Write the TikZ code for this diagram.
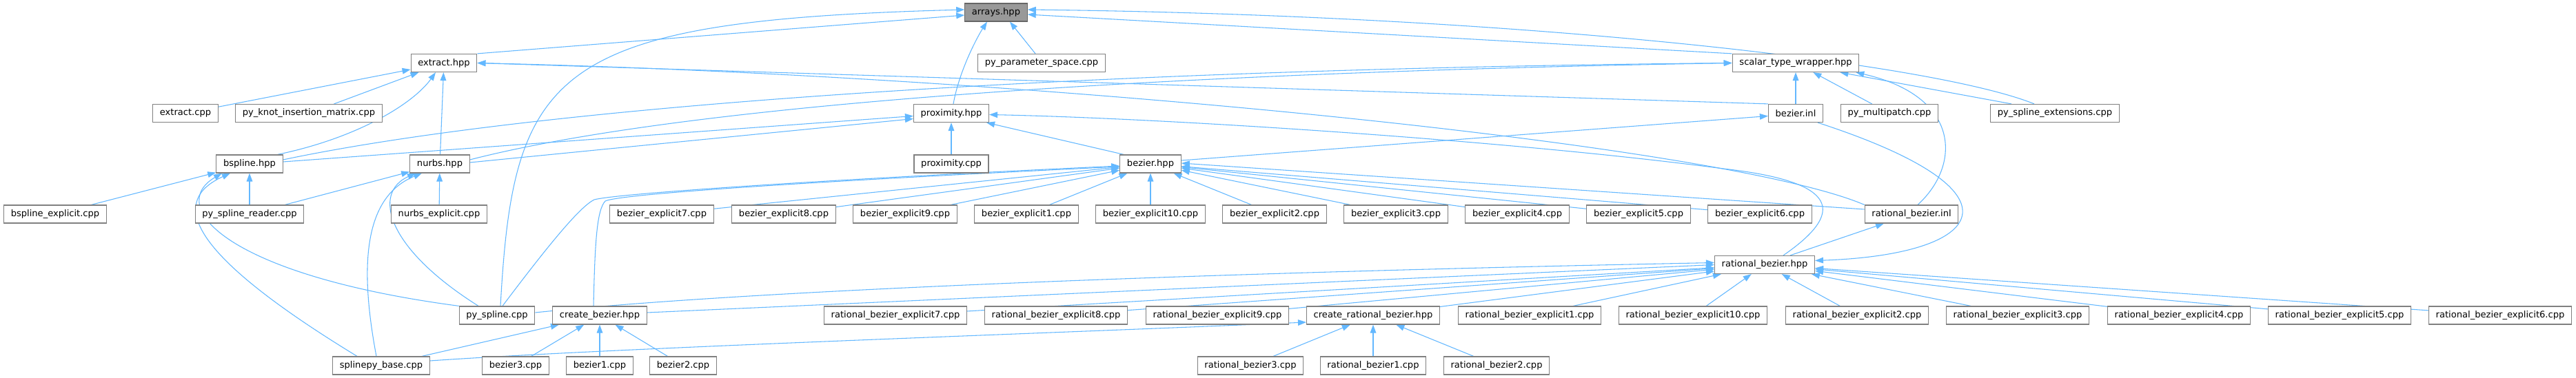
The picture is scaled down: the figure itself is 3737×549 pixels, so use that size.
\documentclass[tikz,border=0pt]{standalone}
\usepackage{fontspec}
\setmainfont{DejaVu Sans}
\usetikzlibrary{arrows.meta,calc}
\definecolor{edgeblue}{HTML}{63B8FF}
\definecolor{boxline}{HTML}{808080}
\definecolor{hlfill}{HTML}{999999}
\definecolor{hlline}{HTML}{666666}
\pgfdeclarelayer{paper}
\pgfdeclarelayer{edges}
\pgfsetlayers{paper,edges,main}
\begin{document}
\begin{tikzpicture}[x=0.75pt,y=-0.75pt,
  box/.style={draw=boxline, fill=white, line width=0.9pt, minimum height=19.5pt, inner xsep=7.6pt, inner ysep=0pt, font=\fontsize{9.8}{11}\selectfont, text=black},
  hl/.style={box, fill=hlfill, draw=hlline},
  e/.style={draw=edgeblue, line width=0.8pt, -{Triangle[length=9pt,width=6.5pt]}}]
\begin{pgfonlayer}{paper}
\fill[white] (0,0) rectangle (3737,549);
\end{pgfonlayer}
\useasboundingbox (0,0) rectangle (3737,549);
% row 1
\node[hl] (arrays) at (1445,18) {arrays.hpp};
% row 2
\node[box] (extract) at (644,91.5) {extract.hpp};
\node[box] (pyparam) at (1511,91.5) {py\_parameter\_space.cpp};
\node[box] (stw) at (2605,91.5) {scalar\_type\_wrapper.hpp};
% row 3
\node[box] (extractcpp) at (269,164.5) {extract.cpp};
\node[box] (pyknot) at (448,164.5) {py\_knot\_insertion\_matrix.cpp};
\node[box] (proxhpp) at (1380,164.5) {proximity.hpp};
\node[box] (bezinl) at (2605,164.5) {bezier.inl};
\node[box] (pymulti) at (2741,164.5) {py\_multipatch.cpp};
\node[box] (pyext) at (2981,164.5) {py\_spline\_extensions.cpp};
% row 4
\node[box] (bspline) at (362,238) {bspline.hpp};
\node[box] (nurbs) at (638,238) {nurbs.hpp};
\node[box] (proxcpp) at (1380,238) {proximity.cpp};
\node[box] (bezhpp) at (1669,238) {bezier.hpp};
% row 5
\node[box] (bsplexp) at (80,311) {bspline\_explicit.cpp};
\node[box] (pyreader) at (362,311) {py\_spline\_reader.cpp};
\node[box] (nurbsexp) at (637,311) {nurbs\_explicit.cpp};
\node[box] (be7) at (960,311) {bezier\_explicit7.cpp};
\node[box] (be8) at (1137,311) {bezier\_explicit8.cpp};
\node[box] (be9) at (1313,311) {bezier\_explicit9.cpp};
\node[box] (be1) at (1489,311) {bezier\_explicit1.cpp};
\node[box] (be10) at (1669,311) {bezier\_explicit10.cpp};
\node[box] (be2) at (1849,311) {bezier\_explicit2.cpp};
\node[box] (be3) at (2025,311) {bezier\_explicit3.cpp};
\node[box] (be4) at (2201,311) {bezier\_explicit4.cpp};
\node[box] (be5) at (2377,311) {bezier\_explicit5.cpp};
\node[box] (be6) at (2553,311) {bezier\_explicit6.cpp};
\node[box] (rbinl) at (2773,311) {rational\_bezier.inl};
% row 6
\node[box] (rbhpp) at (2560,384.5) {rational\_bezier.hpp};
% row 7
\node[box] (pyspline) at (721,458) {py\_spline.cpp};
\node[box] (createbez) at (870,458) {create\_bezier.hpp};
\node[box] (rbe7) at (1299,458) {rational\_bezier\_explicit7.cpp};
\node[box] (rbe8) at (1532,458) {rational\_bezier\_explicit8.cpp};
\node[box] (rbe9) at (1766,458) {rational\_bezier\_explicit9.cpp};
\node[box] (crb) at (1992,458) {create\_rational\_bezier.hpp};
\node[box] (rbe1) at (2219,458) {rational\_bezier\_explicit1.cpp};
\node[box] (rbe10) at (2456,458) {rational\_bezier\_explicit10.cpp};
\node[box] (rbe2) at (2694,458) {rational\_bezier\_explicit2.cpp};
\node[box] (rbe3) at (2927,458) {rational\_bezier\_explicit3.cpp};
\node[box] (rbe4) at (3161,458) {rational\_bezier\_explicit4.cpp};
\node[box] (rbe5) at (3394,458) {rational\_bezier\_explicit5.cpp};
\node[box] (rbe6) at (3627,458) {rational\_bezier\_explicit6.cpp};
% row 8
\node[box] (splbase) at (553,531) {splinepy\_base.cpp};
\node[box] (bez3) at (748,531) {bezier3.cpp};
\node[box] (bez1) at (870,531) {bezier1.cpp};
\node[box] (bez2) at (991,531) {bezier2.cpp};
\node[box] (rb3) at (1814,531) {rational\_bezier3.cpp};
\node[box] (rb1) at (1992,531) {rational\_bezier1.cpp};
\node[box] (rb2) at (2171,531) {rational\_bezier2.cpp};

\begin{pgfonlayer}{edges}
% ---- edges to arrays.hpp
\draw[e] (extract.north east) -- ($(arrays.west)+(0,4)$);
\draw[e] ($(pyparam.north)+(-9,0)$) -- ($(arrays.south)+(20,0)$);
\draw[e] ($(proxhpp.north)+(3,0)$) .. controls (1392,100) and (1420,50) .. ($(arrays.south)+(-13,0)$);
\draw[e] (stw.north west) -- ($(arrays.east)+(0,3)$);
\draw[e] ($(pyext.north)+(-30,0)$) .. controls (2800,90) and (2200,22) .. ($(arrays.east)+(0,-4)$);
\draw[e] ($(pyspline.north)+(5,0)$) .. controls (745,100) and (800,30) .. ($(arrays.west)+(0,-4)$);
% ---- edges to extract.hpp
\draw[e] (extractcpp) -- (extract);
\draw[e] (pyknot) -- (extract);
\draw[e] ($(bspline.north east)+(-8,0)$) .. controls (520,200) and (600,150) .. ($(extract.south)+(-12,0)$);
\draw[e] (nurbs) -- (extract);
\draw[e] (bezinl.north west) -- (extract.east);
\draw[e] (rbinl.north west) .. controls (2500,210) and (1500,110) .. (extract.east);
% ---- edges to scalar_type_wrapper.hpp
\draw[e] ($(bspline.east)+(0,-6)$) .. controls (800,150) and (1600,100) .. (stw.west);
\draw[e] ($(nurbs.east)+(0,-6)$) .. controls (1000,150) and (1700,105) .. (stw.west);
\draw[e] (bezinl) -- (stw);
\draw[e] (pymulti) -- (stw);
\draw[e] ($(pyext.north)+(-63,0)$) -- ($(stw.south east)+(-28,0)$);
\draw[e] ($(rbinl.north)+(9,0)$) .. controls (2845,240) and (2845,140) .. ($(stw.south east)+(-5,0)$);
% ---- edges to proximity.hpp
\draw[e] ($(bspline.east)+(0,-3)$) -- ($(proxhpp.west)+(0,4)$);
\draw[e] ($(nurbs.east)+(0,-2)$) -- ($(proxhpp.west)+(0,8)$);
\draw[e] (proxcpp) -- (proxhpp);
\draw[e] ($(bezhpp.north west)+(6,0)$) -- ($(proxhpp.south east)+(-4,0)$);
\draw[e] ($(rbhpp.north)+(27,0)$) .. controls (2690,300) and (2650,262) .. (2500,245) .. controls (2200,205) and (1700,172) .. ($(proxhpp.east)+(0,2)$);
% ---- bezier.inl
\draw[e] ($(bezhpp.east)+(0,-5)$) -- ($(bezinl.west)+(0,4)$);
\draw[e] ($(bezinl.south)+(32,0)$) .. controls (2950,280) and (2880,370) .. ($(rbhpp.east)+(0,-6)$);
% ---- edges to bezier.hpp
\draw[e] ($(rbinl.west)+(0,-7)$) -- ($(bezhpp.east)+(0,-1)$);
\draw[e] (be7) -- (bezhpp);
\draw[e] (be8) -- (bezhpp);
\draw[e] (be9) -- (bezhpp);
\draw[e] (be1) -- (bezhpp);
\draw[e] (be10) -- (bezhpp);
\draw[e] (be2) -- (bezhpp);
\draw[e] (be3) -- (bezhpp);
\draw[e] (be4) -- (bezhpp);
\draw[e] (be5) -- (bezhpp);
\draw[e] (be6) -- (bezhpp);
\draw[e] ($(pyspline.north)+(8,0)$) .. controls (800,350) and (842,300) .. (862,290) .. controls (900,280) and (1250,258) .. ($(bezhpp.west)+(0,3)$);
\draw[e] ($(createbez.north)+(-9,0)$) .. controls (863,350) and (866,305) .. (878,292) .. controls (905,280) and (1250,260) .. ($(bezhpp.west)+(0,4)$);
% ---- rational_bezier.inl
\draw[e] ($(rbhpp.north)+(37,0)$) -- ($(rbinl.south)+(-40,0)$);
% ---- edges to bspline.hpp
\draw[e] (bsplexp) -- (bspline);
\draw[e] (pyreader) -- (bspline);
\draw[e] (pyspline.north west) .. controls (330,400) and (240,300) .. ($(bspline.south)+(-40,0)$);
\draw[e] ($(splbase.north)+(-35,0)$) .. controls (260,360) and (250,290) .. ($(bspline.south)+(-28,0)$);
% ---- edges to nurbs.hpp
\draw[e] (pyreader) -- (nurbs);
\draw[e] (nurbsexp) -- (nurbs);
\draw[e] ($(pyspline.north)+(-27,0)$) .. controls (560,360) and (540,280) .. ($(nurbs.south)+(-35,0)$);
\draw[e] ($(splbase.north)+(-7,0)$) .. controls (520,380) and (530,285) .. ($(nurbs.south)+(-26,0)$);
% ---- edges to rational_bezier.hpp
\draw[e] ($(pyspline.east)+(0,-4)$) .. controls (1100,420) and (1800,395) .. ($(rbhpp.west)+(0,-3)$);
\draw[e] ($(createbez.east)+(0,-4)$) -- (rbhpp.west);
\draw[e] (rbe7) -- (rbhpp);
\draw[e] (rbe8) -- (rbhpp);
\draw[e] (rbe9) -- (rbhpp);
\draw[e] (crb) -- (rbhpp);
\draw[e] (rbe1) -- (rbhpp);
\draw[e] (rbe10) -- (rbhpp);
\draw[e] (rbe2) -- (rbhpp);
\draw[e] (rbe3) -- (rbhpp);
\draw[e] (rbe4) -- (rbhpp);
\draw[e] (rbe5) -- (rbhpp);
\draw[e] (rbe6) -- (rbhpp);
% ---- edges to create_bezier.hpp
\draw[e] (splbase) -- (createbez);
\draw[e] (bez3) -- (createbez);
\draw[e] (bez1) -- (createbez);
\draw[e] (bez2) -- (createbez);
% ---- edges to create_rational_bezier.hpp
\draw[e] ($(splbase.east)+(0,-7)$) .. controls (900,505) and (1500,485) .. ($(crb.west)+(0,10)$);
\draw[e] (rb3) -- (crb);
\draw[e] (rb1) -- (crb);
\draw[e] (rb2) -- (crb);
\end{pgfonlayer}
\end{tikzpicture}
\end{document}
